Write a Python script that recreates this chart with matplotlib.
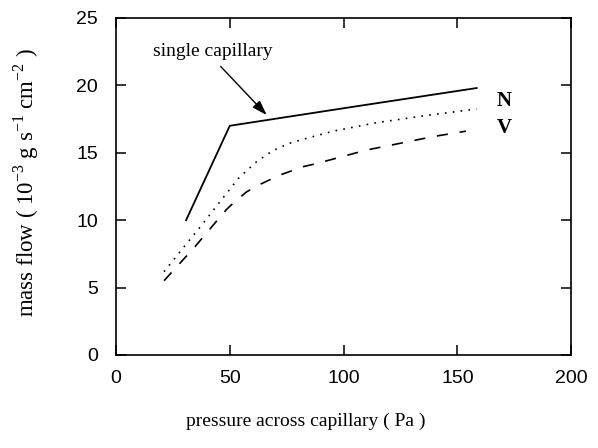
import matplotlib
matplotlib.use("Agg")
import matplotlib.pyplot as plt

# ---- data ----
single_x = [30.8, 50, 100, 158.5]
single_y = [10.0, 17.0, 18.3, 19.8]

n_x = [21.1, 29.3, 37.7, 45.7, 53.8, 61.5, 68.9, 76.2, 83.8, 95.4, 114.5, 136, 158.5]
n_y = [6.18, 7.9, 9.64, 11.37, 13.1, 14.3, 15.16, 15.7, 16.07, 16.6, 17.23, 17.75, 18.25]

v_x = [21.1, 34.7, 44.0, 48.6, 52.7, 57.4, 62.6, 72.1, 82.3, 88.2, 110, 119, 139.4, 153.8]
v_y = [5.51, 8.03, 9.89, 10.8, 11.45, 12.1, 12.6, 13.35, 13.97, 14.2, 15.2, 15.5, 16.2, 16.6]

x_ticks = [0, 50, 100, 150, 200]
y_ticks = [0, 5, 10, 15, 20, 25]
x_ticklabels = ["0", "50", "100", "150", "200"]
y_ticklabels = ["0", "5", "10", "15", "20", "25"]

xlabel = "pressure across capillary ( Pa )"
ylabel = r"mass flow ( 10$^{\mathregular{-3}}$ g s$^{\mathregular{-1}}$ cm$^{\mathregular{-2}}$ )"
annot_text = "single capillary"
annot_text_pos = (42.6, 22.5)
arrow_tail = (46.0, 21.4)
arrow_head = (66.2, 17.8)
label_n = "N"
label_v = "V"
label_n_pos = (170.5, 18.84)
label_v_pos = (170.5, 16.84)

plt.rcParams["lines.scale_dashes"] = False
plt.rcParams["mathtext.fontset"] = "custom"
plt.rcParams["mathtext.rm"] = "Liberation Serif"

fig = plt.figure(figsize=(5.98, 4.48), dpi=100)
ax = fig.add_axes([0.194, 0.2076, 0.761, 0.7524])

ax.plot(single_x, single_y, color="black", lw=1.3, solid_joinstyle="miter")
ax.plot(n_x, n_y, color="black", lw=1.2, linestyle=(0, (1.2, 4.5)))
ax.plot(v_x, v_y, color="black", lw=1.2, linestyle=(0, (8, 8.5)))

ax.set_xlim(0, 200)
ax.set_ylim(0, 25)
ax.set_xticks(x_ticks)
ax.set_yticks(y_ticks)
ax.set_xticklabels(x_ticklabels, family="Liberation Sans", fontsize=14)
ax.set_yticklabels(y_ticklabels, family="Liberation Sans", fontsize=14)
ax.tick_params(direction="in", length=7, width=1.1, top=True, right=True)
ax.tick_params(axis="x", pad=11)
ax.tick_params(axis="y", pad=13)
for s in ax.spines.values():
    s.set_linewidth(1.2)

ax.set_xlabel(xlabel, family="Liberation Serif", fontsize=14)
ax.xaxis.set_label_coords(0.4176, -0.172)
ax.xaxis.label.set_va("top")
ax.set_ylabel(ylabel, family="Liberation Serif", fontsize=16.5)
ax.yaxis.set_label_coords(-0.165, 0.512)

ax.text(annot_text_pos[0], annot_text_pos[1], annot_text, ha="center", va="center",
        family="Liberation Serif", fontsize=14)
ax.annotate("", xy=arrow_head, xytext=arrow_tail,
            arrowprops=dict(arrowstyle="-|>,head_length=0.9,head_width=0.3",
                            mutation_scale=10, color="black", lw=1.0,
                            shrinkA=0, shrinkB=0))

ax.text(label_n_pos[0], label_n_pos[1], label_n, family="Liberation Serif",
        fontweight="bold", fontsize=15, ha="center", va="center")
ax.text(label_v_pos[0], label_v_pos[1], label_v, family="Liberation Serif",
        fontweight="bold", fontsize=15, ha="center", va="center")

fig.savefig("out.png", dpi=100)
